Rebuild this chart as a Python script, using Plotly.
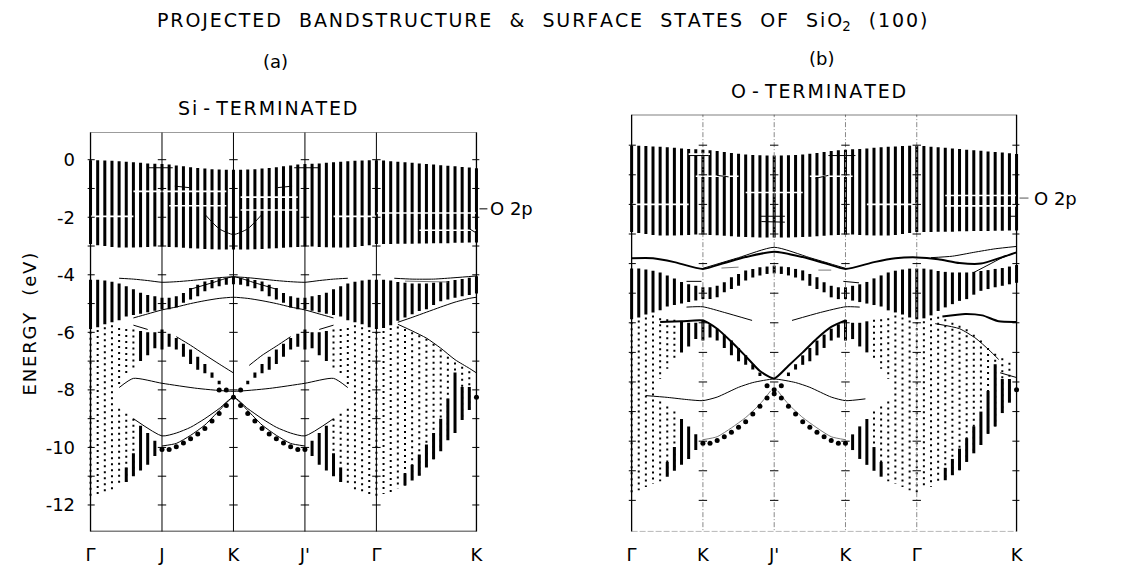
import plotly.graph_objects as go

W, H = 1124, 565

# ---- k-path: 55 columns, high-symmetry points at these column indices ----
SYM_COLS = [0, 10, 20, 30, 40, 54]
LABELS_A = ["Γ", "J", "K", "J'", "Γ", "K"]
LABELS_B = ["Γ", "K", "J'", "K", "Γ", "K"]

# ---- projected bulk bands (eV), one value per column, None = no states ----
o2p_top = [-0.02, -0.02, -0.03, -0.04, -0.05, -0.07, -0.09, -0.11, -0.13, -0.14, -0.15,
           -0.17, -0.2, -0.23, -0.26, -0.29, -0.31, -0.33, -0.34, -0.35, -0.35,
           -0.35, -0.34, -0.33, -0.31, -0.29, -0.26, -0.23, -0.2, -0.17, -0.15,
           -0.14, -0.13, -0.11, -0.09, -0.07, -0.05, -0.04, -0.03, -0.02, -0.02,
           -0.03, -0.05, -0.07, -0.09, -0.11, -0.13, -0.15, -0.17, -0.19, -0.21, -0.23, -0.25, -0.27, -0.3]
o2p_bot = [-2.93, -2.97, -3.0, -3.03, -3.05, -3.05, -3.05, -3.04, -3.03, -3.02, -3.02,
           -3.03, -3.04, -3.06, -3.08, -3.09, -3.1, -3.11, -3.12, -3.12, -3.12,
           -3.12, -3.12, -3.11, -3.1, -3.09, -3.08, -3.06, -3.04, -3.03, -3.02,
           -3.02, -3.03, -3.04, -3.05, -3.05, -3.05, -3.03, -3.0, -2.97, -2.93,
           -2.93, -2.93, -2.92, -2.92, -2.92, -2.91, -2.91, -2.9, -2.9, -2.9, -2.89, -2.89, -2.88, -2.88]

mid_top = [-4.17, -4.17, -4.2, -4.24, -4.3, -4.4, -4.5, -4.62, -4.7, -4.75, -4.8,
           -4.8, -4.75, -4.63, -4.46, -4.35, -4.23, -4.18, -4.12, -4.1, -4.07,
           -4.1, -4.12, -4.18, -4.23, -4.35, -4.46, -4.63, -4.75, -4.8, -4.8,
           -4.75, -4.7, -4.62, -4.5, -4.4, -4.3, -4.24, -4.2, -4.17, -4.17,
           -4.17, -4.2, -4.25, -4.28, -4.3, -4.3, -4.3, -4.28, -4.25, -4.22, -4.18, -4.15, -4.1, -4.05]
mid_bot = [-5.88, -5.82, -5.72, -5.65, -5.58, -5.45, -5.4, -5.35, -5.3, -5.25, -5.2,
           -5.2, -5.14, -4.97, -4.86, -4.75, -4.57, -4.47, -4.4, -4.35, -4.33,
           -4.35, -4.4, -4.47, -4.57, -4.75, -4.86, -4.97, -5.14, -5.2, -5.2,
           -5.25, -5.3, -5.35, -5.4, -5.45, -5.58, -5.65, -5.72, -5.82, -5.88,
           -5.85, -5.75, -5.6, -5.48, -5.37, -5.26, -5.2, -5.05, -4.92, -4.86, -4.8, -4.75, -4.7, -4.65]

_ = None
dot1_top = [-5.98, -5.92, -5.82, -5.75, -5.85, -5.88, -5.9, _, _, _, _,
            _, _, _, _, _, _, _, _, _, _,
            _, _, _, _, _, _, _, _, _, _,
            _, _, _, -5.9, -5.88, -5.85, -5.75, -5.82, -5.92, -5.98,
            -5.95, -5.85, -5.8, -5.88, -6.0, -6.1, -6.22, -6.4, -6.6, -6.85, -7.05, -7.2, -7.35, _]
dot1_bot = [-11.73, -11.66, -11.55, -11.45, -7.9, -7.55, -7.25, _, _, _, _,
            _, _, _, _, _, _, _, _, _, _,
            _, _, _, _, _, _, _, _, _, _,
            _, _, _, -7.25, -7.55, -7.9, -11.45, -11.55, -11.66, -11.73,
            -11.62, -11.55, -11.44, -11.32, -11.15, -10.98, -10.7, -10.41, -10.13, -9.75, -9.5, -9.05, -8.7, _]
dot2_top = [_, _, _, _, -8.66, -8.83, -9.0, _, _, _, _,
            _, _, _, _, _, _, _, _, _, _,
            _, _, _, _, _, _, _, _, _, _,
            _, _, _, -9.0, -8.83, -8.66, _, _, _, _,
            _, _, _, _, _, _, _, _, _, _, _, _, _, _]
dot2_bot = [_, _, _, _, -11.35, -11.2, -11.0, _, _, _, _,
            _, _, _, _, _, _, _, _, _, _,
            _, _, _, _, _, _, _, _, _, _,
            _, _, _, -11.0, -11.2, -11.35, _, _, _, _,
            _, _, _, _, _, _, _, _, _, _, _, _, _, _]
arm_top = [_, _, _, _, _, _, _, -5.95, -6.0, -6.0, -5.9,
           -6.05, -6.2, -6.4, -6.6, -6.85, -7.1, -7.4, -7.68, _, _,
           _, -7.68, -7.4, -7.1, -6.85, -6.6, -6.4, -6.2, -6.05, -5.9,
           -6.0, -6.0, -5.95, _, _, _, _, _, _, _,
           _, _, _, _, _, _, _, _, _, _, _, _, _, _]
arm_bot = [_, _, _, _, _, _, _, -7.0, -6.8, -6.55, -6.6,
           -6.5, -6.6, -6.85, -7.1, -7.3, -7.42, -7.58, -7.8, _, _,
           _, -7.8, -7.58, -7.42, -7.3, -7.1, -6.85, -6.6, -6.5, -6.6,
           -6.55, -6.8, -7.0, _, _, _, _, _, _, _,
           _, _, _, _, _, _, _, _, _, _, _, _, _, _]
low_top = [_, _, _, _, _, -10.7, -10.2, -9.25, -9.5, -9.77, _,
           _, _, _, _, _, _, _, _, _, _,
           _, _, _, _, _, _, _, _, _, _,
           -9.77, -9.5, -9.25, -10.2, -10.7, _, _, _, _, _,
           _, _, _, -10.9, -10.6, -10.25, -9.9, -9.5, -9.0, -8.3, -7.4, -7.9, -7.9, _]
low_bot = [_, _, _, _, _, -11.2, -11.0, -10.8, -10.6, -10.3, _,
           _, _, _, _, _, _, _, _, _, _,
           _, _, _, _, _, _, _, _, _, _,
           -10.3, -10.6, -10.8, -11.0, -11.2, _, _, _, _, _,
           _, _, _, -11.32, -11.15, -10.98, -10.7, -10.41, -10.13, -9.75, -9.5, -9.05, -8.7, _]

# heavy dots along the lower band edge
edge_dot_k = [10, 11, 12, 13, 14, 15, 16, 17, 18, 19, 20, 21, 22, 23, 24, 25, 26, 27, 28, 29, 30, 54]
edge_dot_e = [-10.07, -10.07, -9.98, -9.85, -9.7, -9.53, -9.34, -9.08, -8.82, -8.54, -8.26,
              -8.54, -8.82, -9.08, -9.34, -9.53, -9.7, -9.85, -9.98, -10.07, -10.07, -8.26]

# ---- surface states, panel (a): Si-terminated ----
a_s1_k = [4, 6, 8, 10, 12, 14, 16, 18, 20, 22, 24, 26, 28, 30, 32, 34, 36]
a_s1_e = [-4.12, -4.15, -4.2, -4.26, -4.24, -4.2, -4.15, -4.1, -4.07, -4.1, -4.15, -4.2, -4.24, -4.26, -4.2, -4.15, -4.12]
a_s2_k = [14, 17, 20, 23, 26]
a_s2_e = [-4.5, -4.28, -4.07, -4.28, -4.5]
a_s3_k = [42.5, 45, 48, 51, 54]
a_s3_e = [-4.12, -4.15, -4.15, -4.1, -4.04]
a_s4_k = [6, 8, 10, 12, 14, 16, 18, 20, 22, 24, 26, 28, 30, 32, 34]
a_s4_e = [-5.5, -5.36, -5.22, -5.12, -5.0, -4.9, -4.82, -4.78, -4.82, -4.9, -5.0, -5.12, -5.22, -5.36, -5.5]
a_s5_k = [43, 45, 47, 49, 51, 53, 54]
a_s5_e = [-5.65, -5.48, -5.3, -5.12, -4.95, -4.82, -4.78]
a_s6l_k, a_s6l_e = [6, 8], [-5.75, -5.9]
a_s6r_k, a_s6r_e = [32, 34], [-5.9, -5.75]
a_s7l_k = [12, 14, 16, 18, 20]
a_s7l_e = [-6.15, -6.45, -6.78, -7.1, -7.41]
a_s7r_k = [22.2, 24, 26, 28]
a_s7r_e = [-7.15, -6.8, -6.48, -6.15]
a_s8_k = [4, 6, 10, 15, 20, 25, 30, 34, 36]
a_s8_e = [-7.92, -7.6, -7.77, -7.95, -8.05, -7.95, -7.77, -7.6, -7.92]
a_s9_k = [6, 10, 12, 14, 16, 18, 20, 22, 24, 26, 28, 30, 34]
a_s9_e = [-9.0, -9.6, -9.5, -9.3, -9.0, -8.65, -8.26, -8.65, -9.0, -9.3, -9.5, -9.6, -9.0]
a_s10_k = [10, 12, 14, 16, 18, 20, 22, 24, 26, 28, 30]
a_s10_e = [-9.95, -9.86, -9.58, -9.22, -8.72, -8.26, -8.72, -9.22, -9.58, -9.86, -9.95]
a_s11_k = [43, 45, 47, 49, 51, 53, 54]
a_s11_e = [-5.72, -5.95, -6.2, -6.55, -6.95, -7.25, -7.41]
a_s12_k = [16, 18, 20, 22, 24]
a_s12_e = [-1.9, -2.4, -2.6, -2.4, -1.9]
a_s13_k, a_s13_e = [8, 11.5], [-0.28, -0.28]
a_s14_k, a_s14_e = [28.5, 32], [-0.28, -0.28]
a_s15_k, a_s15_e = [11.8, 13.8], [-0.92, -0.97]
a_s16_k, a_s16_e = [26.2, 28.2], [-0.97, -0.92]
a_s17_k, a_s17_e = [53, 54], [-2.4, -2.55]
a_grey_k, a_grey_e = [44, 50], [-4.22, -4.25]
a_extra_dot_k = [18, 19, 21]
a_extra_dot_e = [-8.0, -8.0, -8.0]
# white breaks (column from, column to, energy) inside the O 2p band
a_gap_k0 = [0, 6, 11, 21, 21, 34, 40, 46]
a_gap_k1 = [6, 19, 19, 29, 29, 40, 54, 54]
a_gap_e = [-1.97, -1.1, -1.6, -1.3, -1.75, -1.97, -1.85, -2.45]

# ---- surface states, panel (b): O-terminated ----
b_s1_k = [0, 3, 6, 10, 13, 16, 20, 24, 27, 30, 34, 37, 40, 43, 46, 49, 52, 54]
b_s1_e = [-3.82, -3.82, -3.95, -4.18, -3.98, -3.78, -3.6, -3.78, -3.98, -4.18, -3.95, -3.82, -3.79, -3.85, -3.98, -4.0, -3.78, -3.62]
b_s2_k = [10, 15, 20, 25, 30]
b_s2_e = [-4.16, -3.8, -3.45, -3.8, -4.16]
b_s3_k = [42, 45, 48, 51, 54]
b_s3_e = [-3.8, -3.75, -3.62, -3.5, -3.42]
b_s4_k = [48, 50, 52, 54]
b_s4_e = [-4.3, -4.05, -3.8, -3.62]
b_s5_k = [4, 7, 10, 12, 14, 16, 18, 20, 22, 24, 26, 28, 30]
b_s5_e = [-5.97, -5.95, -5.92, -6.2, -6.64, -7.13, -7.63, -7.88, -7.45, -7.0, -6.53, -6.14, -5.92]
b_s6_k = [43.6, 46.8, 49.2, 51.5, 54]
b_s6_e = [-5.79, -5.7, -5.75, -5.95, -5.97]
b_s7l_k, b_s7l_e = [7.7, 10, 13, 16.9], [-5.47, -5.46, -5.65, -5.92]
b_s7r_k, b_s7r_e = [22.5, 26.5, 30, 32], [-5.92, -5.65, -5.46, -5.47]
b_s8_k = [2, 5, 8, 10, 12, 15, 17, 20, 23, 25, 28, 30, 32.8]
b_s8_e = [-8.46, -8.52, -8.6, -8.63, -8.51, -8.18, -8.02, -7.9, -8.02, -8.18, -8.51, -8.63, -8.57]
b_s9l_k, b_s9l_e = [10, 12, 14, 16, 18, 19.5], [-9.95, -9.85, -9.55, -9.2, -8.75, -8.3]
b_s9r_k, b_s9r_e = [20.5, 22, 24, 26, 28, 30], [-8.3, -8.75, -9.2, -9.55, -9.85, -9.95]
b_s10_k = [42.6, 46, 48.3, 50.1, 51.5]
b_s10_e = [-6.03, -6.2, -6.53, -6.91, -7.24]
b_s11_k, b_s11_e = [51.7, 54], [-7.69, -7.85]
b_s12_k, b_s12_e = [7.7, 9.8], [-4.6, -4.6]
b_s13_k, b_s13_e = [29.7, 31.9], [-4.6, -4.65]
b_s14_k, b_s14_e = [8, 10.8], [-0.35, -0.35]
b_s15_k, b_s15_e = [27.6, 31.4], [-0.35, -0.35]
b_s16_k, b_s16_e = [12, 13.6], [-1.02, -1.07]
b_s17_k, b_s17_e = [25.8, 27.6], [-1.12, -1.02]
b_s18_k, b_s18_e = [18, 21.5], [-2.4, -2.4]
b_s19_k, b_s19_e = [18.2, 21.5], [-2.58, -2.6]
b_s20_k, b_s20_e = [53.1, 54], [-2.4, -2.4]
b_frag1_k, b_frag1_e = [12.6, 15], [-4.15, -4.12]
b_frag2_k, b_frag2_e = [26.2, 28], [-4.22, -4.22]
b_extra_dot_k = [19, 21, 20]
b_extra_dot_e = [-8.13, -8.13, -8.4]
b_gap_k0 = [8, 9, 25, 16, 0, 33, 44, 44]
b_gap_k1 = [11, 15, 31, 24, 8, 40, 54, 54]
b_gap_e = [-0.3, -1.05, -1.05, -1.6, -2.0, -2.0, -1.7, -2.05]

ENERGY_TICKS = [0, -2, -4, -6, -8, -10, -12]
MINOR_TICKS = list(range(-12, 1))

# ---- geometry of the two frames (pixels) ----
PAD = 0.4
A_PX = (89, 477, 135, 542)      # left, right, top, bottom
B_PX = (633, 1020, 117, 542)
A_YR = [-12.92, 0.95]
B_YR = [-13.05, 1.03]


def xdomain(l, r):
    per = (r - l) / 54.0
    return [(l - PAD * per) / W, (r + PAD * per) / W]


def ydomain(t, b):
    return [(H - b) / H, (H - t) / H]


def columns(top, bot):
    xs, ys = [], []
    for c, (t, b) in enumerate(zip(top, bot)):
        if t is None or b is None:
            continue
        xs += [c, c, None]
        ys += [t, b, None]
    return xs, ys


fig = go.Figure()


def add_panel(xa, ya, lines_thin, lines_bold, lines_grey, gaps, extra_dots, interior_dash):
    # bulk columns
    for top, bot, style in [(o2p_top, o2p_bot, "thick"), (mid_top, mid_bot, "thick"),
                            (dot1_top, dot1_bot, "dot"), (dot2_top, dot2_bot, "dot"),
                            (arm_top, arm_bot, "thick"), (low_top, low_bot, "thick")]:
        xs, ys = columns(top, bot)
        if style == "thick":
            ln = dict(color="black", width=3.0)
        else:
            ln = dict(color="black", width=2.0, dash="2px,4px")
        fig.add_trace(go.Scatter(x=xs, y=ys, mode="lines", line=ln, xaxis=xa, yaxis=ya,
                                 hoverinfo="skip", showlegend=False))
    # white breaks inside the O 2p band
    k0s, k1s, es = gaps
    gx, gy = [], []
    for k0, k1, e in zip(k0s, k1s, es):
        gx += [k0, k1, None]
        gy += [e, e, None]
    fig.add_trace(go.Scatter(x=gx, y=gy, mode="lines", line=dict(color="white", width=1.6),
                             xaxis=xa, yaxis=ya, hoverinfo="skip", showlegend=False))
    # high-symmetry verticals and frame sides
    for c in SYM_COLS:
        edge = c in (0, 54)
        fig.add_trace(go.Scatter(
            x=[c, c], y=[-20, 5], mode="lines",
            line=dict(color="black" if (edge or not interior_dash) else "#888",
                      width=1.3 if edge else 1.0,
                      dash="solid" if (edge or not interior_dash) else "5px,2px,1px,2px"),
            xaxis=xa, yaxis=ya, hoverinfo="skip", showlegend=False))
    tx, ty = [], []
    for c in SYM_COLS:
        for e in MINOR_TICKS:
            tx.append(c)
            ty.append(e)
    fig.add_trace(go.Scatter(x=tx, y=ty, mode="markers",
                             marker=dict(symbol="line-ew", size=6, line=dict(width=1, color="black")),
                             xaxis=xa, yaxis=ya, hoverinfo="skip", showlegend=False))
    # surface-state curves
    for group, col, wid in [(lines_thin, "black", 1.0), (lines_bold, "black", 2.0), (lines_grey, "#777", 1.0)]:
        for k, e in group:
            fig.add_trace(go.Scatter(x=k, y=e, mode="lines",
                                     line=dict(color=col, width=wid, shape="spline", smoothing=0.6),
                                     xaxis=xa, yaxis=ya, hoverinfo="skip", showlegend=False))
    # heavy dots
    fig.add_trace(go.Scatter(x=edge_dot_k + extra_dots[0], y=edge_dot_e + extra_dots[1], mode="markers",
                             marker=dict(color="black", size=5),
                             xaxis=xa, yaxis=ya, hoverinfo="skip", showlegend=False))


add_panel("x", "y",
          lines_thin=[(a_s1_k, a_s1_e), (a_s2_k, a_s2_e), (a_s3_k, a_s3_e), (a_s4_k, a_s4_e),
                      (a_s5_k, a_s5_e), (a_s6l_k, a_s6l_e), (a_s6r_k, a_s6r_e), (a_s7l_k, a_s7l_e),
                      (a_s7r_k, a_s7r_e), (a_s8_k, a_s8_e), (a_s9_k, a_s9_e), (a_s10_k, a_s10_e),
                      (a_s11_k, a_s11_e), (a_s12_k, a_s12_e), (a_s13_k, a_s13_e), (a_s14_k, a_s14_e),
                      (a_s15_k, a_s15_e), (a_s16_k, a_s16_e), (a_s17_k, a_s17_e)],
          lines_bold=[],
          lines_grey=[(a_grey_k, a_grey_e)],
          gaps=(a_gap_k0, a_gap_k1, a_gap_e),
          extra_dots=(a_extra_dot_k, a_extra_dot_e),
          interior_dash=False)

add_panel("x2", "y2",
          lines_thin=[(b_s2_k, b_s2_e), (b_s3_k, b_s3_e), (b_s4_k, b_s4_e), (b_s7l_k, b_s7l_e),
                      (b_s7r_k, b_s7r_e), (b_s8_k, b_s8_e), (b_s10_k, b_s10_e), (b_s11_k, b_s11_e),
                      (b_s12_k, b_s12_e), (b_s13_k, b_s13_e), (b_s14_k, b_s14_e), (b_s15_k, b_s15_e),
                      (b_s16_k, b_s16_e), (b_s17_k, b_s17_e), (b_s18_k, b_s18_e), (b_s19_k, b_s19_e),
                      (b_s20_k, b_s20_e)],
          lines_bold=[(b_s1_k, b_s1_e), (b_s5_k, b_s5_e), (b_s6_k, b_s6_e)],
          lines_grey=[(b_s9l_k, b_s9l_e), (b_s9r_k, b_s9r_e), (b_frag1_k, b_frag1_e), (b_frag2_k, b_frag2_e)],
          gaps=(b_gap_k0, b_gap_k1, b_gap_e),
          extra_dots=(b_extra_dot_k, b_extra_dot_e),
          interior_dash=True)

FONT = "DejaVu Sans"
HAIR = "\u200a"
GAP = "\u00a0\u00a0\u00a0"


def spaced(word):
    # lettering-style text: a hair space between the letters
    return HAIR.join(word)


TITLE = GAP.join([spaced("PROJECTED"), spaced("BANDSTRUCTURE"), "&", spaced("SURFACE"),
                  spaced("STATES"), spaced("OF"), "S" + HAIR + "i" + HAIR + "O<sub>2</sub>", spaced("(100)")])

shapes = [
    # frame bottom / top edges
    dict(type="line", xref="x", yref="y", x0=0, x1=54, y0=A_YR[0], y1=A_YR[0], line=dict(color="black", width=1.3)),
    dict(type="line", xref="x", yref="y", x0=0, x1=54, y0=A_YR[1], y1=A_YR[1], line=dict(color="#666", width=1)),
    dict(type="line", xref="x2", yref="y2", x0=0, x1=54, y0=B_YR[0], y1=B_YR[0], line=dict(color="#777", width=1, dash="6px,2px")),
    dict(type="line", xref="x2", yref="y2", x0=0, x1=54, y0=B_YR[1], y1=B_YR[1], line=dict(color="black", width=1.2)),
    # O 2p leaders
    dict(type="line", xref="paper", yref="paper", x0=480 / W, x1=488 / W, y0=1 - 213 / H, y1=1 - 213 / H, line=dict(color="black", width=1)),
    dict(type="line", xref="paper", yref="paper", x0=1023 / W, x1=1032 / W, y0=1 - 202 / H, y1=1 - 202 / H, line=dict(color="#555", width=1)),
]


def ann(text, px, py, size=18, xanchor="center", **kw):
    d = dict(text=text, x=px / W, y=1 - py / H, xref="paper", yref="paper", showarrow=False,
             xanchor=xanchor, yanchor="middle",
             font=dict(family=FONT, size=size, color="black"))
    d.update(kw)
    return d


annotations = [
    ann(TITLE, 543, 22, size=19),
    ann("(a)", 275, 63),
    ann("(b)", 824, 60),
    ann(spaced("Si") + "\u00a0-\u00a0" + spaced("TERMINATED"), 267, 110, size=19),
    ann("O\u00a0-\u00a0" + spaced("TERMINATED"), 821, 93, size=19),
    ann(spaced("ENERGY") + GAP + spaced("(eV)"), 28, 330, textangle=-90),
    ann("O\u00a02p", 489, 213, xanchor="left"),
    ann("O\u00a02p", 1036, 202, xanchor="left"),
]

axis_common = dict(showgrid=False, zeroline=False, showline=False)
fig.update_layout(
    width=W, height=H, margin=dict(l=0, r=0, t=0, b=0),
    paper_bgcolor="white", plot_bgcolor="white",
    font=dict(family=FONT, size=18, color="black"),
    xaxis=dict(domain=xdomain(A_PX[0], A_PX[1]), range=[-PAD, 54 + PAD], tickmode="array",
               tickvals=SYM_COLS, ticktext=LABELS_A, ticks="outside", ticklen=7, tickcolor="rgba(0,0,0,0)",
               tickfont=dict(family=FONT, size=18), **axis_common),
    yaxis=dict(domain=ydomain(A_PX[2], A_PX[3]), range=A_YR, tickmode="array",
               tickvals=ENERGY_TICKS, ticktext=[str(v) for v in ENERGY_TICKS],
               ticks="outside", ticklen=8, tickcolor="rgba(0,0,0,0)",
               tickfont=dict(family=FONT, size=18), **axis_common),
    xaxis2=dict(domain=xdomain(B_PX[0], B_PX[1]), range=[-PAD, 54 + PAD], anchor="y2", tickmode="array",
                tickvals=SYM_COLS, ticktext=LABELS_B, ticks="outside", ticklen=7, tickcolor="rgba(0,0,0,0)",
                tickfont=dict(family=FONT, size=18), **axis_common),
    yaxis2=dict(domain=ydomain(B_PX[2], B_PX[3]), range=B_YR, anchor="x2", showticklabels=False, **axis_common),
    shapes=shapes,
    annotations=annotations,
)

fig.write_html("out.html")
